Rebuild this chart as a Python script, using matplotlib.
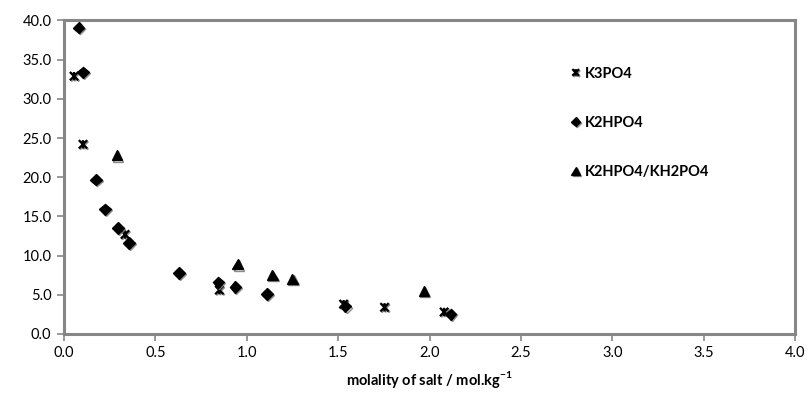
import matplotlib
matplotlib.use("Agg")
import matplotlib.pyplot as plt
from matplotlib.path import Path
import matplotlib.patheffects as pe

plt.rcParams['font.family'] = ['Lato', 'DejaVu Sans']

# molality (mol/kg) vs. phase composition values for each salt
k3po4_x = [0.055, 0.104, 0.334, 0.85, 1.53, 1.754, 2.08]
k3po4_y = [32.9, 24.2, 12.7, 5.6, 3.8, 3.4, 2.8]

k2hpo4_x = [0.08, 0.104, 0.175, 0.225, 0.296, 0.356, 0.63, 0.844, 0.937, 1.11, 1.54, 2.115]
k2hpo4_y = [39.1, 33.4, 19.7, 15.9, 13.5, 11.6, 7.8, 6.6, 6.0, 5.1, 3.5, 2.5]

mix_x = [0.29, 0.95, 1.14, 1.25, 1.97]
mix_y = [22.8, 8.9, 7.5, 7.0, 5.5]

x_ticks = [0.0, 0.5, 1.0, 1.5, 2.0, 2.5, 3.0, 3.5, 4.0]
y_ticks = [0.0, 5.0, 10.0, 15.0, 20.0, 25.0, 30.0, 35.0, 40.0]

# Excel-style asterisk: an X crossed by a vertical bar
star_marker = Path(
    [(-1, -1), (1, 1), (-1, 1), (1, -1), (0, -1), (0, 1)],
    [Path.MOVETO, Path.LINETO, Path.MOVETO, Path.LINETO, Path.MOVETO, Path.LINETO],
)

shadow = [pe.SimpleLineShadow(offset=(0.8, -0.8), shadow_color='#808080', alpha=0.9), pe.Normal()]

fig = plt.figure(figsize=(8.1, 3.98), dpi=100)
ax = fig.add_axes([0.079, 0.161, 0.9025, 0.7875])

ax.plot(k3po4_x, k3po4_y, linestyle='none', marker=star_marker, markersize=6,
        markeredgecolor='black', markeredgewidth=1.6, color='black',
        label='K3PO4', path_effects=shadow)
ax.plot(k2hpo4_x, k2hpo4_y, linestyle='none', marker='D', markersize=5.8,
        color='black', label='K2HPO4', path_effects=shadow)
ax.plot(mix_x, mix_y, linestyle='none', marker='^', markersize=7.5,
        color='black', label='K2HPO4/KH2PO4', path_effects=shadow)

ax.set_xlim(0, 4.0)
ax.set_ylim(0, 40.0)
ax.set_xticks(x_ticks)
ax.set_yticks(y_ticks)
ax.set_xticklabels([f'{v:.1f}' for v in x_ticks])
ax.set_yticklabels([f'{v:.1f}' for v in y_ticks])

for s in ax.spines.values():
    s.set_color('#868686')
    s.set_linewidth(2.2)
ax.tick_params(axis='both', direction='out', length=5, width=1.2, color='#868686',
               labelsize=10.5, labelcolor='black', pad=4)

ax.set_xlabel('molality of salt / mol.kg$^{\\mathregular{-1}}$', fontsize=10.5,
              fontweight='bold', labelpad=6)

leg = ax.legend(loc='upper left', bbox_to_anchor=(0.676, 0.895), frameon=False,
                labelspacing=2.42, handlelength=0.6, handletextpad=0.35,
                markerscale=0.8, prop={'size': 10.5, 'weight': 'bold'})

fig.savefig('out.png', dpi=100, facecolor='white')
